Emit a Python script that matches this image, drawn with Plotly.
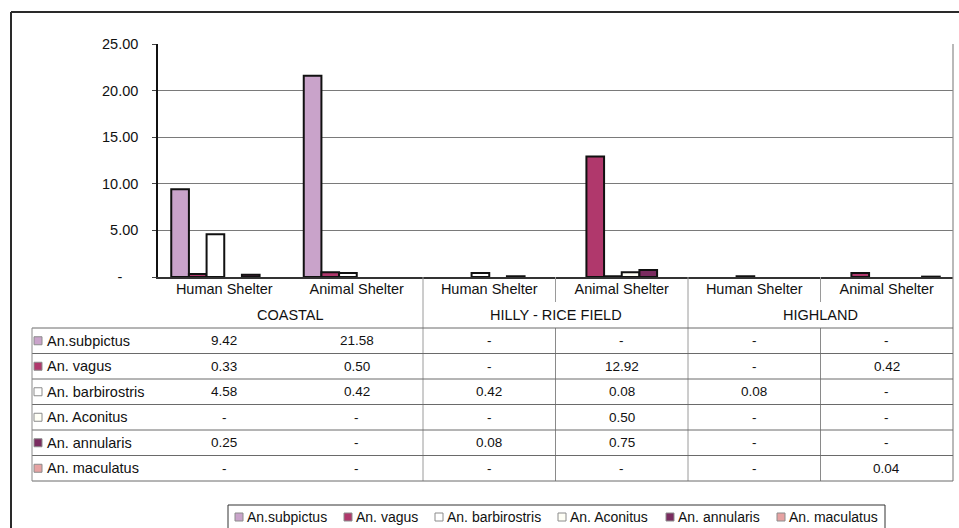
import plotly.graph_objects as go

# ---- data -----------------------------------------------------------------
shelters = ["Human Shelter", "Animal Shelter",
            "Human Shelter", "Animal Shelter",
            "Human Shelter", "Animal Shelter"]
regions = ["COASTAL", "HILLY - RICE FIELD", "HIGHLAND"]

species = ["An.subpictus", "An. vagus", "An. barbirostris",
           "An. Aconitus", "An. annularis", "An. maculatus"]

subpictus = [9.42, 21.58, 0, 0, 0, 0]
vagus = [0.33, 0.50, 0, 12.92, 0, 0.42]
barbirostris = [4.58, 0.42, 0.42, 0.08, 0.08, 0]
aconitus = [0, 0, 0, 0.50, 0, 0]
annularis = [0.25, 0, 0.08, 0.75, 0, 0]
maculatus = [0, 0, 0, 0, 0, 0.04]

series = [subpictus, vagus, barbirostris, aconitus, annularis, maculatus]
colors = ["#C9A3CA", "#B0386C", "#FFFFFF", "#FFFFF6", "#7A2C60", "#E6A2A2"]

y_ticks = [0, 5, 10, 15, 20, 25]

# ---- geometry (pixels of the 959x528 page) ----------------------------------
W, H = 959, 528
L, R, T, B = 158, 953, 44, 277          # plot area
FONT = "Liberation Sans, Arial, sans-serif"
FS = 14.5


def px(x):
    return (x - L) / (R - L)


def py(y):
    return (B - y) / (B - T)


xs = list(range(len(shelters)))

fig = go.Figure()
for name, vals, col in zip(species, series, colors):
    # empty cells get no bar at all (not even an outline)
    fig.add_trace(go.Bar(
        x=xs, y=[v if v else None for v in vals], name=name, showlegend=False,
        marker=dict(color=col, line=dict(color="#111111", width=2)),
    ))


def fmt(v):
    return "-" if v == 0 else f"{v:.2f}"


shapes = []
annotations = []
line_col = "#6a6a6a"

# outer frame (top and left edges)
shapes.append(dict(type="line", xref="paper", yref="paper",
                   x0=px(11), x1=px(W + 5), y0=py(12), y1=py(12),
                   line=dict(color="#2a2a2a", width=2)))
shapes.append(dict(type="line", xref="paper", yref="paper",
                   x0=px(11), x1=px(11), y0=py(12), y1=py(H + 5),
                   line=dict(color="#2a2a2a", width=2)))

# right border of plot area continuing through the table
row_top = 328
row_h = 25.5
n_rows = len(species)
table_bottom = row_top + row_h * n_rows
shapes.append(dict(type="line", xref="paper", yref="paper",
                   x0=1, x1=1, y0=py(T), y1=py(table_bottom),
                   line=dict(color="#8a8a8a", width=1.2)))

# category-axis dividers
col_w = (R - L) / len(shelters)
for i in range(1, len(shelters)):
    xpix = L + col_w * i
    if i % 2 == 0:
        y_end = table_bottom        # between regions: full height
    else:
        y_end = 302                 # between shelters: first label row
        if i == 1:
            continue
    shapes.append(dict(type="line", xref="paper", yref="paper",
                       x0=px(xpix), x1=px(xpix), y0=py(B), y1=py(y_end),
                       line=dict(color="#9a9a9a", width=1)))
    if i % 2 == 1:
        shapes.append(dict(type="line", xref="paper", yref="paper",
                           x0=px(xpix), x1=px(xpix), y0=py(row_top),
                           y1=py(table_bottom),
                           line=dict(color="#8a8a8a", width=1)))

# region labels
for k, reg in enumerate(regions):
    cx = L + col_w * (2 * k + 1)
    annotations.append(dict(xref="paper", yref="paper", x=px(cx), y=py(315),
                            text=reg, showarrow=False,
                            font=dict(family=FONT, size=FS, color="#111"),
                            xanchor="center", yanchor="middle"))

# data table
tbl_left = 32
for r in range(n_rows + 1):
    yy = row_top + row_h * r
    shapes.append(dict(type="line", xref="paper", yref="paper",
                       x0=px(tbl_left), x1=1, y0=py(yy), y1=py(yy),
                       line=dict(color=line_col, width=1)))
shapes.append(dict(type="line", xref="paper", yref="paper",
                   x0=px(tbl_left), x1=px(tbl_left), y0=py(row_top),
                   y1=py(table_bottom), line=dict(color="#8a8a8a", width=1)))

for r, (name, vals, col) in enumerate(zip(species, series, colors)):
    cy = row_top + row_h * (r + 0.5)
    shapes.append(dict(type="rect", xref="paper", yref="paper",
                       x0=px(34), x1=px(42), y0=py(cy - 4), y1=py(cy + 4),
                       fillcolor=col, line=dict(color="#8c8c8c", width=1)))
    annotations.append(dict(xref="paper", yref="paper", x=px(45), y=py(cy),
                            text=name, showarrow=False,
                            font=dict(family=FONT, size=FS, color="#111"),
                            xanchor="left", yanchor="middle"))
    for c, v in enumerate(vals):
        annotations.append(dict(xref="x", yref="paper", x=xs[c], y=py(cy),
                                text=fmt(v), showarrow=False,
                                font=dict(family=FONT, size=13.5, color="#111"),
                                xanchor="center", yanchor="middle"))

# legend box
leg_left, leg_right, leg_top = 228, 885, 505
leg_cy = 517
shapes.append(dict(type="rect", xref="paper", yref="paper",
                   x0=px(leg_left), x1=px(leg_right), y0=py(leg_top),
                   y1=py(H + 6), line=dict(color="#333", width=1),
                   fillcolor="rgba(0,0,0,0)"))
text_w = {"An.subpictus": 80, "An. vagus": 62, "An. barbirostris": 94,
          "An. Aconitus": 79, "An. annularis": 82, "An. maculatus": 89}
xcur = 235
for name, col in zip(species, colors):
    shapes.append(dict(type="rect", xref="paper", yref="paper",
                       x0=px(xcur), x1=px(xcur + 8), y0=py(leg_cy - 4),
                       y1=py(leg_cy + 4), fillcolor=col,
                       line=dict(color="#8c8c8c", width=1)))
    annotations.append(dict(xref="paper", yref="paper", x=px(xcur + 10),
                            y=py(leg_cy), text=name, showarrow=False,
                            font=dict(family=FONT, size=14, color="#111"),
                            xanchor="left", yanchor="middle"))
    xcur += 8 + 3 + text_w[name] + 18

fig.update_layout(
    width=W, height=H,
    margin=dict(l=L, r=W - R, t=T, b=H - B, pad=0),
    paper_bgcolor="white", plot_bgcolor="white",
    barmode="group", bargap=0.2, bargroupgap=0,
    shapes=shapes, annotations=annotations,
    showlegend=False,
    font=dict(family=FONT, size=FS, color="#111"),
)
fig.update_xaxes(
    range=[-0.5, len(shelters) - 0.5],
    tickmode="array", tickvals=xs, ticktext=shelters,
    tickfont=dict(family=FONT, size=FS, color="#111"),
    showgrid=False, zeroline=False,
    showline=True, linecolor="#333", linewidth=1.5,
    ticks="", ticklabelstandoff=-2,
)
fig.update_yaxes(
    range=[0, 25], tickmode="array", tickvals=y_ticks,
    ticktext=["-\u00a0\u00a0\u00a0\u00a0" if t == 0 else f"{t:.2f}" for t in y_ticks],
    tickfont=dict(family=FONT, size=FS, color="#111"),
    showgrid=True, gridcolor="#7a7a7a", gridwidth=1,
    zeroline=False, showline=True, linecolor="#111", linewidth=1.5,
    ticks="outside", ticklen=4, tickcolor="#444", ticklabelstandoff=11,
)

fig.write_html("out.html")
